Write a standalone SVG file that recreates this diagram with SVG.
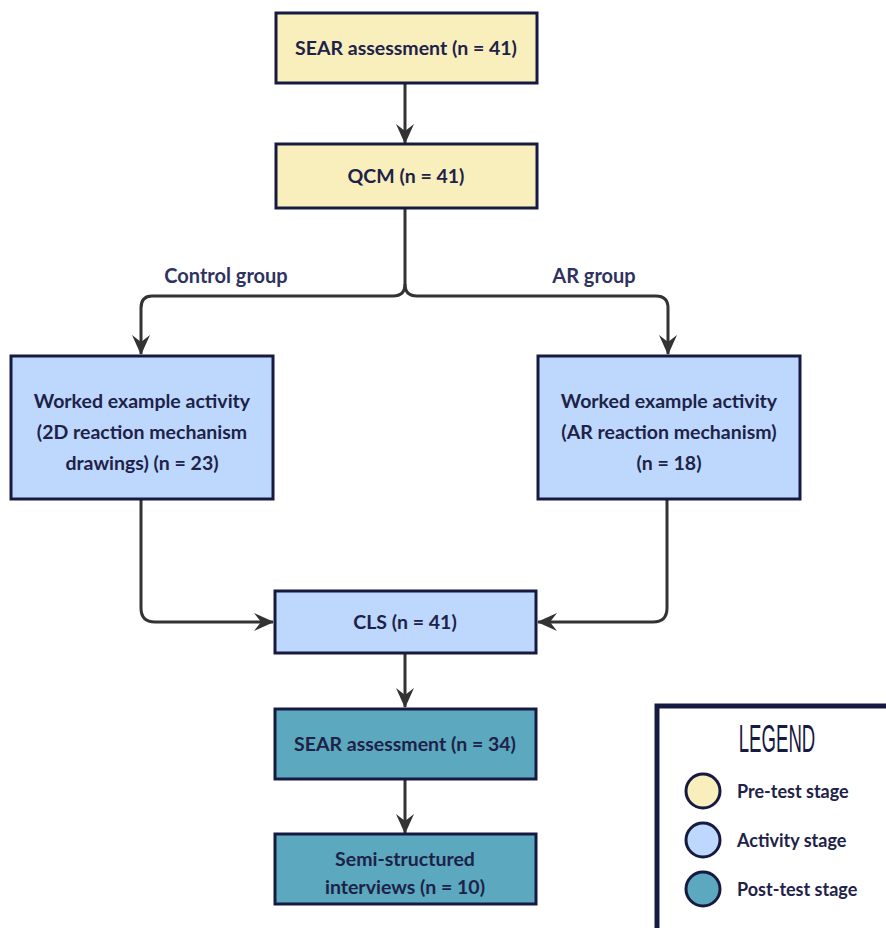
<svg xmlns="http://www.w3.org/2000/svg" width="886" height="928" viewBox="0 0 886 928">
<defs>
<marker id="arr" viewBox="0 0 20 20" markerWidth="20" markerHeight="20" refX="19" refY="10" orient="auto" markerUnits="userSpaceOnUse">
<path d="M0,1 L20,10 L0,19 L7,10 z" fill="#333333"/>
</marker>
<style>
.box{stroke:#161a40;stroke-width:3}
.pre{fill:#f8efbd}
.act{fill:#bdd8fc}
.post{fill:#5ba8bf}
.t{font-family:Lato,"Liberation Sans",sans-serif;font-weight:bold;font-size:19.5px;fill:#1e2248;text-anchor:middle}
.lab{font-family:Lato,"Liberation Sans",sans-serif;font-weight:bold;font-size:20px;fill:#2e3260;text-anchor:middle}
.con{fill:none;stroke:#333333;stroke-width:3;marker-end:url(#arr)}
.lt{font-family:Lato,"Liberation Sans",sans-serif;font-weight:bold;font-size:18px;fill:#1e2248}
</style>
</defs>
<rect width="886" height="928" fill="#ffffff"/>
<g id="connectors">
<path class="con" d="M405,83 V143"/>
<path class="con" d="M405,208 V284 Q405,296 393,296 H152 Q141,296 141,308 V354"/>
<path class="con" d="M405,284 Q405,296 417,296 H656 Q668,296 668,308 V354"/>
<path class="con" d="M141,499 V608 Q141,622 155,622 H273"/>
<path class="con" d="M667,499 V608 Q667,622 653,622 H538"/>
<path class="con" d="M405,653 V707"/>
<path class="con" d="M405,779 V833"/>
<text class="lab" x="226" y="283">Control group</text>
<text class="lab" x="594" y="283">AR group</text>
</g>
<g id="sear41">
<rect class="box pre" x="276" y="13" width="261" height="70"/>
<text class="t" x="406" y="55">SEAR assessment (n = 41)</text>
</g>
<g id="qcm">
<rect class="box pre" x="276" y="144" width="261" height="64"/>
<text class="t" x="406" y="183">QCM (n = 41)</text>
</g>
<g id="control">
<rect class="box act" x="11" y="356" width="262" height="143"/>
<text class="t" x="142" y="408">Worked example activity</text>
<text class="t" x="142" y="439">(2D reaction mechanism</text>
<text class="t" x="142" y="470">drawings) (n = 23)</text>
</g>
<g id="ar">
<rect class="box act" x="538" y="356" width="262" height="143"/>
<text class="t" x="669" y="408">Worked example activity</text>
<text class="t" x="669" y="439">(AR reaction mechanism)</text>
<text class="t" x="669" y="470">(n = 18)</text>
</g>
<g id="cls">
<rect class="box act" x="275" y="591" width="261" height="62"/>
<text class="t" x="405" y="629">CLS (n = 41)</text>
</g>
<g id="sear34">
<rect class="box post" x="275" y="709" width="261" height="70"/>
<text class="t" x="405" y="751">SEAR assessment (n = 34)</text>
</g>
<g id="interviews">
<rect class="box post" x="275" y="834" width="261" height="70"/>
<text class="t" x="405" y="866">Semi-structured</text>
<text class="t" x="405" y="894">interviews (n = 10)</text>
</g>
<g id="legend">
<rect x="657" y="706" width="240" height="240" fill="#ffffff" stroke="#161a40" stroke-width="5"/>
<text transform="translate(777,752) scale(0.49,1)" x="0" y="0" font-family="'Liberation Sans',sans-serif" font-size="38" fill="#161a40" text-anchor="middle">LEGEND</text>
<circle cx="703" cy="791" r="17" class="pre" stroke="#161a40" stroke-width="3"/>
<circle cx="703" cy="840" r="17" class="act" stroke="#161a40" stroke-width="3"/>
<circle cx="703" cy="889" r="17" class="post" stroke="#161a40" stroke-width="3"/>
<text class="lt" x="737" y="798">Pre-test stage</text>
<text class="lt" x="737" y="847">Activity stage</text>
<text class="lt" x="737" y="896">Post-test stage</text>
</g>
</svg>
